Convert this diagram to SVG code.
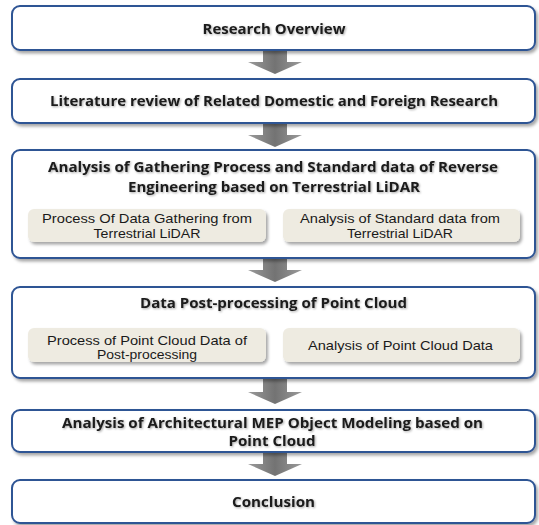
<svg xmlns="http://www.w3.org/2000/svg" width="539" height="525" viewBox="0 0 539 525">
<defs>
<filter id="sh" x="-5%" y="-20%" width="110%" height="140%">
<feDropShadow dx="2" dy="2.5" stdDeviation="1.5" flood-color="#000" flood-opacity="0.35"/>
</filter>
<filter id="ts" x="-5%" y="-30%" width="110%" height="160%">
<feDropShadow dx="1" dy="1" stdDeviation="0.8" flood-color="#000" flood-opacity="0.35"/>
</filter>
<linearGradient id="ag" x1="0" y1="0" x2="1" y2="0">
<stop offset="0" stop-color="#9a9a9a"/>
<stop offset="0.5" stop-color="#737373"/>
<stop offset="1" stop-color="#9a9a9a"/>
</linearGradient>
</defs>
<style>
.box{fill:#fff;stroke:#2e5494;stroke-width:2;filter:url(#sh)}
.sub{fill:#eeebe1;filter:url(#sh)}
.arr{fill:url(#ag)}
.t{font-family:"Open Sans","Liberation Sans",Arial,sans-serif;font-weight:bold;font-size:14px;fill:#1a1a1a;text-anchor:middle;filter:url(#ts)}
.s{font-family:"Liberation Sans",Arial,sans-serif;font-size:13px;fill:#1a1a1a;text-anchor:middle}
</style>
<g id="connectors">
<polygon class="arr" points="263,48 287,48 287,62 302,62 275,74 248,62 263,62"/>
<polygon class="arr" points="263,121 287,121 287,135 302,135 275,147 248,135 263,135"/>
<polygon class="arr" points="263,256 287,256 287,270 302,270 275,282 248,270 263,270"/>
<polygon class="arr" points="263,376 287,376 287,392 302,392 275,404 248,392 263,392"/>
<polygon class="arr" points="263,450 287,450 287,464 302,464 275,476 248,464 263,464"/>
</g>
<g id="n1">
<rect class="box" x="12" y="6" width="523" height="44" rx="8"/>
<text class="t" x="274" y="34" textLength="143" lengthAdjust="spacingAndGlyphs">Research Overview</text>
</g>
<g id="n2">
<rect class="box" x="12" y="79" width="523" height="44" rx="8"/>
<text class="t" x="274" y="106" textLength="448" lengthAdjust="spacingAndGlyphs">Literature review of Related Domestic and Foreign Research</text>
</g>
<g id="n3">
<rect class="box" x="12" y="150" width="523" height="108" rx="8"/>
<text class="t" x="273" y="172" textLength="450" lengthAdjust="spacingAndGlyphs">Analysis of Gathering Process and Standard data of Reverse</text>
<text class="t" x="274" y="192" textLength="292" lengthAdjust="spacingAndGlyphs">Engineering based on Terrestrial LiDAR</text>
</g>
<g id="n3a">
<rect class="sub" x="28" y="209" width="238" height="33" rx="6"/>
<text class="s" x="147" y="222.5" textLength="210" lengthAdjust="spacingAndGlyphs">Process Of Data Gathering from</text>
<text class="s" x="147" y="237.5" textLength="107" lengthAdjust="spacingAndGlyphs">Terrestrial LiDAR</text>
</g>
<g id="n3b">
<rect class="sub" x="283" y="209" width="237" height="33" rx="6"/>
<text class="s" x="400" y="222.5" textLength="200" lengthAdjust="spacingAndGlyphs">Analysis of Standard data from</text>
<text class="s" x="400" y="237.5" textLength="106" lengthAdjust="spacingAndGlyphs">Terrestrial LiDAR</text>
</g>
<g id="n4">
<rect class="box" x="12" y="287" width="523" height="91" rx="8"/>
<text class="t" x="273.5" y="308" textLength="267" lengthAdjust="spacingAndGlyphs">Data Post-processing of Point Cloud</text>
</g>
<g id="n4a">
<rect class="sub" x="28" y="328" width="238" height="34" rx="6"/>
<text class="s" x="147" y="344.5" textLength="200" lengthAdjust="spacingAndGlyphs">Process of Point Cloud Data of</text>
<text class="s" x="147" y="359" textLength="100" lengthAdjust="spacingAndGlyphs">Post-processing</text>
</g>
<g id="n4b">
<rect class="sub" x="283" y="328" width="237" height="34" rx="6"/>
<text class="s" x="400.5" y="349.5" textLength="185" lengthAdjust="spacingAndGlyphs">Analysis of Point Cloud Data</text>
</g>
<g id="n5">
<rect class="box" x="12" y="410" width="523" height="42" rx="8"/>
<text class="t" x="272.5" y="428" textLength="421" lengthAdjust="spacingAndGlyphs">Analysis of Architectural MEP Object Modeling based on</text>
<text class="t" x="272" y="446" textLength="87" lengthAdjust="spacingAndGlyphs">Point Cloud</text>
</g>
<g id="n6">
<rect class="box" x="12" y="480" width="523" height="43" rx="8"/>
<text class="t" x="273.5" y="507" textLength="83" lengthAdjust="spacingAndGlyphs">Conclusion</text>
</g>
</svg>
